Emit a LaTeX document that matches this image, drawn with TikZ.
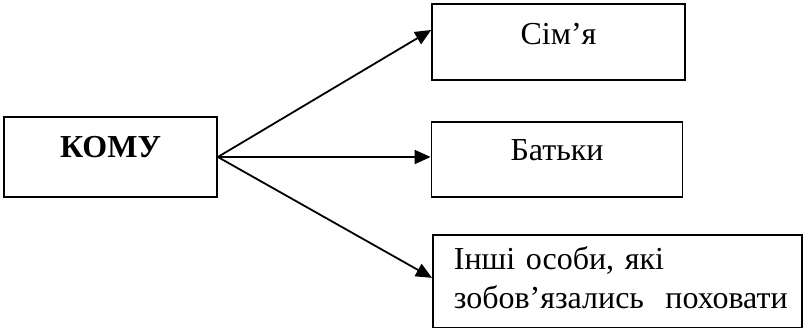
\documentclass[tikz,border=0pt]{standalone}
\usepackage{fontspec}
\setmainfont{Liberation Serif}
\usetikzlibrary{arrows.meta}
\tikzset{>={Triangle[length=16pt,width=14pt]}}
\tikzset{box/.style={draw, line width=1.7pt, rectangle, inner sep=0pt, text depth=10pt}}

\begin{document}
\begin{tikzpicture}[x=1pt, y=-1pt, font=\fontsize{32}{39}\selectfont]
\useasboundingbox (0,0) rectangle (803,328);
\node[box, minimum width=213pt, minimum height=80pt, text height=12pt] (kom) at (110.5,157) {\bfseries КОМУ};
\node[box, minimum width=253pt, minimum height=76pt, text height=16pt] (sim) at (558.5,42) {Сім’я};
\node[box, minimum width=251pt, minimum height=75pt, text height=13pt] (bat) at (557,159.5) {Батьки};
\node[box, text depth=, anchor=north west, minimum width=369pt, minimum height=93pt, text width=327pt, inner xsep=21pt, align=left] (inshi) at (432,234) {Інші особи, які\\зобов’язались~ поховати\rule[-8pt]{0pt}{0pt}};
\coordinate (src) at (kom.east);
\draw[->, line width=1.8pt] (src) -- ([yshift=12pt]sim.west);
\draw[->, line width=1.8pt] (src) -- (src -| bat.west);
\draw[->, line width=1.8pt] (src) -- ([yshift=3.5pt]inshi.west);
\end{tikzpicture}
\end{document}
